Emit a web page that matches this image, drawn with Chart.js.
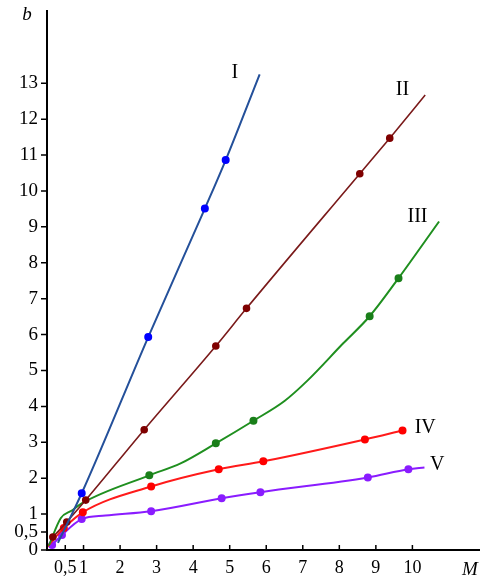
<!DOCTYPE html>
<html>
<head>
<meta charset="utf-8">
<script src="https://cdn.jsdelivr.net/npm/chart.js@4.4.1/dist/chart.umd.min.js"></script>
<style>
  html, body { margin: 0; padding: 0; background: #fff; }
  #wrap { width: 485px; height: 582px; }
</style>
</head>
<body>
<div id="wrap"><canvas id="chart" width="485" height="582"></canvas></div>
<script>
// tick values and labels
const xTicks = [0.5, 1, 2, 3, 4, 5, 6, 7, 8, 9, 10];
const yTicks = [0, 0.5, 1, 2, 3, 4, 5, 6, 7, 8, 9, 10, 11, 12, 13];

// curve I
const mI = [0.3, 0.95, 2.77, 4.32, 4.89, 5.82];
const bI = [0.2, 1.58, 5.93, 9.51, 10.86, 13.25];
const dotI = [0, 1, 1, 1, 1, 0];
// curve II
const mII = [0.16, 0.54, 1.06, 2.66, 4.62, 5.46, 8.56, 9.38, 10.35];
const bII = [0.36, 0.78, 1.39, 3.35, 5.68, 6.73, 10.48, 11.47, 12.67];
const dotII = [1, 1, 1, 1, 1, 1, 1, 1, 0];
// curve III
const mIII = [0.05, 0.38, 0.68, 0.95, 2.8, 3.67, 4.62, 5.65, 6.5, 7.12, 8.1, 8.83, 9.62, 10.73];
const bIII = [0.12, 0.89, 1.1, 1.3, 2.08, 2.42, 2.97, 3.6, 4.15, 4.71, 5.75, 6.51, 7.57, 9.15];
const dotIII = [0, 0, 0, 0, 1, 0, 1, 1, 0, 0, 0, 1, 1, 0];
// curve IV
const mIV = [0, 0.46, 0.98, 2.85, 4.7, 5.92, 8.7, 9.73];
const bIV = [0.08, 0.61, 1.05, 1.77, 2.25, 2.47, 3.08, 3.33];
const dotIV = [0, 1, 1, 1, 1, 1, 1, 1];
// curve V
const mV = [0.14, 0.41, 0.95, 1.6, 2.85, 4.78, 5.84, 8.78, 9.89, 10.33];
const bV = [0.14, 0.42, 0.86, 0.96, 1.08, 1.44, 1.61, 2.02, 2.25, 2.3];
const dotV = [1, 1, 1, 0, 1, 1, 1, 1, 1, 0];

// curve names and where they are written
const curveNames = ['I', 'II', 'III', 'IV', 'V'];
const nameM = [5.14, 9.73, 10.14, 10.35, 10.68];
const nameB = [13.3, 12.83, 9.28, 3.41, 2.38];

const serif = '"Liberation Serif", "Times New Roman", serif';

function series(xs, ys, dots, lineColor, dotColor, width) {
    return {
        data: xs.map((x, i) => ({ x: x, y: ys[i] })),
        borderColor: lineColor,
        backgroundColor: dotColor,
        pointBackgroundColor: dotColor,
        pointBorderColor: dotColor,
        pointRadius: dots.map(d => d ? 3 : 0),
        pointHoverRadius: 0,
        borderWidth: width,
        cubicInterpolationMode: 'monotone',
        clip: false
    };
}

// axes, tick marks and the text labels
const axesPlugin = {
    id: 'axes',
    afterDatasetsDraw(chart) {
        const ctx = chart.ctx;
        const a = chart.chartArea;
        const xs = chart.scales.x;
        const ys = chart.scales.y;
        ctx.save();
        ctx.strokeStyle = '#000';
        ctx.lineWidth = 2;
        ctx.beginPath();
        ctx.moveTo(a.left, 10);
        ctx.lineTo(a.left, a.bottom + 1);
        ctx.moveTo(a.left - 1, a.bottom);
        ctx.lineTo(a.right, a.bottom);
        ctx.stroke();

        ctx.lineWidth = 1.5;
        ctx.beginPath();
        yTicks.forEach(v => {
            const py = ys.getPixelForValue(v);
            ctx.moveTo(a.left - 6, py);
            ctx.lineTo(a.left, py);
        });
        xTicks.forEach(v => {
            const px = xs.getPixelForValue(v);
            ctx.moveTo(px, a.bottom);
            ctx.lineTo(px, a.bottom - 5);
        });
        ctx.stroke();

        ctx.fillStyle = '#000';
        ctx.textAlign = 'center';
        ctx.textBaseline = 'middle';
        ctx.font = '20px ' + serif;
        curveNames.forEach((t, i) => {
            ctx.fillText(t, xs.getPixelForValue(nameM[i]), ys.getPixelForValue(nameB[i]));
        });
        ctx.font = 'italic 19px ' + serif;
        ctx.fillText('M', 470, 570);
        ctx.fillText('b', 27, 15);
        ctx.restore();
    }
};

new Chart(document.getElementById('chart'), {
    type: 'line',
    data: {
        datasets: [
            series(mI, bI, dotI, '#24509a', '#0000ff', 2),
            series(mII, bII, dotII, '#7a1a1a', '#7f0000', 1.6),
            series(mIII, bIII, dotIII, '#1f8f1f', '#1a7f1a', 2),
            series(mIV, bIV, dotIV, '#ff1a1a', '#ff0000', 2),
            series(mV, bV, dotV, '#8a1cff', '#8a1cff', 2)
        ]
    },
    options: {
        responsive: false,
        animation: false,
        events: [],
        layout: { padding: { top: 0, right: 2, left: 0, bottom: 0 } },
        plugins: {
            legend: { display: false },
            tooltip: { enabled: false }
        },
        scales: {
            x: {
                type: 'linear',
                min: 0,
                max: 11.85,
                afterBuildTicks: s => { s.ticks = xTicks.map(v => ({ value: v })); },
                afterFit: s => { s.height = 32; },
                grid: { display: false, drawTicks: false },
                border: { display: false },
                ticks: {
                    autoSkip: false,
                    maxRotation: 0,
                    padding: 7,
                    color: '#000',
                    font: { family: serif, size: 18 },
                    callback: v => String(v).replace('.', ',')
                }
            },
            y: {
                type: 'linear',
                min: 0,
                max: 14.75,
                afterBuildTicks: s => { s.ticks = yTicks.map(v => ({ value: v })); },
                afterFit: s => { s.width = 47; },
                grid: { display: false, drawTicks: false },
                border: { display: false },
                ticks: {
                    autoSkip: false,
                    padding: 9,
                    color: '#000',
                    font: { family: serif, size: 19 },
                    callback: v => String(v).replace('.', ',')
                }
            }
        }
    },
    plugins: [axesPlugin]
});
</script>
</body>
</html>
